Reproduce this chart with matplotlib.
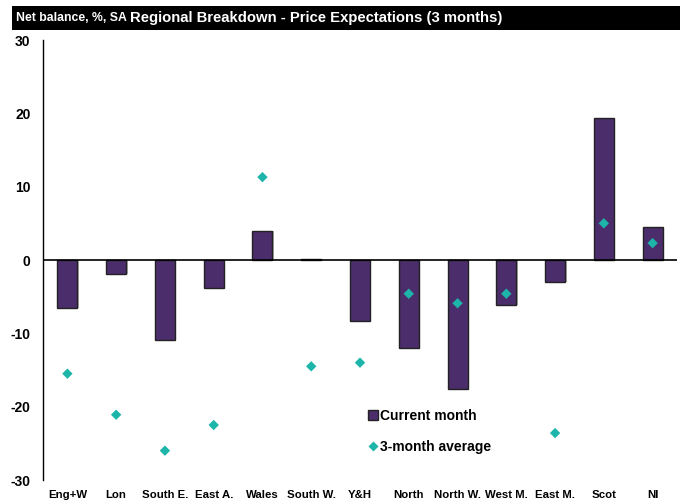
import matplotlib
matplotlib.use("Agg")
import matplotlib.pyplot as plt
from matplotlib.patches import Rectangle
from matplotlib.lines import Line2D
import numpy as np

categories = ["Eng+W", "Lon", "South E.", "East A.", "Wales", "South W.", "Y&H",
              "North", "North W.", "West M.", "East M.", "Scot", "NI"]
current_month = [-6.5, -1.9, -10.9, -3.8, 4.0, 0.2, -8.3, -12.0, -17.6, -6.1, -3.0, 19.4, 4.5]
three_month_avg = [-15.5, -21.1, -26.0, -22.5, 11.3, -14.5, -14.0, -4.6, -5.9, -4.6, -23.6, 5.0, 2.3]

bar_color = "#4B2D6B"
dot_color = "#1DB5A9"
FAM = "Liberation Sans"
plt.rcParams["axes.unicode_minus"] = False

fig = plt.figure(figsize=(6.86, 5.04), dpi=100)
ax = fig.add_axes([43/686, 1-480/504, (677-43)/686, 440/504])

x = np.arange(len(categories))
ax.bar(x + 0.03, current_month, width=0.41, color="#b0b0b0", edgecolor="none", zorder=1)
ax.bar(x, current_month, width=0.41, color=bar_color, edgecolor="#222222", linewidth=1.0, zorder=2)
ax.scatter(x, three_month_avg, marker="D", s=28, color=dot_color, edgecolors="none", zorder=3)

ax.set_xlim(-0.5, len(categories) - 0.5)
ax.set_ylim(-30, 30)
ax.set_yticks([-30, -20, -10, 0, 10, 20, 30])
ax.set_xticks(x)
ax.set_xticklabels(categories)
ax.axhline(0, color="black", linewidth=1.2, zorder=4)

for s in ["top", "right", "bottom"]:
    ax.spines[s].set_visible(False)
ax.spines["left"].set_linewidth(1.0)
ax.tick_params(axis="y", length=0, pad=9, labelsize=10)
ax.tick_params(axis="x", length=0, pad=7, labelsize=8.2)
for lbl in ax.get_yticklabels() + ax.get_xticklabels():
    lbl.set_fontweight("bold")
    lbl.set_family(FAM)

handles = [Line2D([0], [0], marker="s", color="none", markerfacecolor=bar_color,
                  markeredgecolor="#222222", markersize=6.5, linestyle="none"),
           Line2D([0], [0], marker="D", color="none", markerfacecolor=dot_color,
                  markeredgecolor="none", markersize=5, linestyle="none")]
leg = ax.legend(handles, ["Current month", "3-month average"], loc="upper left",
                bbox_to_anchor=(0.495, 0.19), frameon=False, handlelength=0.5,
                handletextpad=0.25, labelspacing=1.25,
                prop={"family": FAM, "weight": "bold", "size": 10})

fig.patches.append(Rectangle((12/686, 1-30/504), (680-12)/686, 24/504,
                             transform=fig.transFigure, facecolor="black",
                             edgecolor="none", zorder=0))
fig.text(16/686, 1-18/504, "Net balance, %, SA", color="white", fontsize=8.8,
         fontweight="bold", family=FAM, va="center", ha="left")
fig.text(130/686, 1-18/504, "Regional Breakdown - Price Expectations (3 months)",
         color="white", fontsize=10.7, fontweight="bold", family=FAM,
         va="center", ha="left")

fig.savefig("out.png", dpi=100)
